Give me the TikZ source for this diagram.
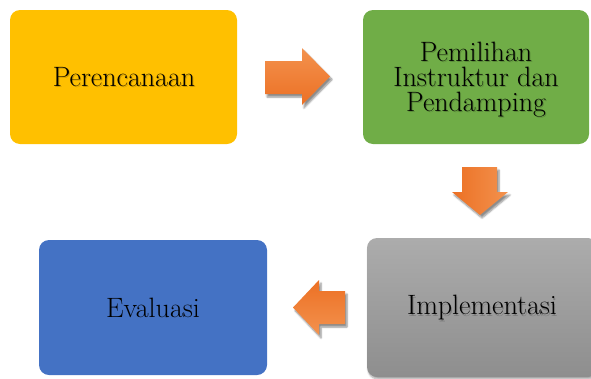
\documentclass[tikz,border=0pt]{standalone}
\usetikzlibrary{shadows.blur}
\definecolor{cYellow}{RGB}{255,192,0}
\definecolor{cGreen}{RGB}{112,173,71}
\definecolor{cBlue}{RGB}{68,114,196}
\definecolor{cGrayTop}{RGB}{172,172,172}
\definecolor{cGrayBot}{RGB}{142,142,142}
\definecolor{cOrL}{RGB}{243,146,78}
\definecolor{cOrD}{RGB}{236,112,36}
\tikzset{
  box/.style={rounded corners=10pt, inner sep=0pt},
  lbl/.style={font=\fontsize{28}{25}\selectfont, align=center, text=black},
  lblsh/.style={font=\fontsize{28}{25}\selectfont, align=center, text=black, opacity=0.2},
  blkarrow/.style={draw=none, blur shadow={shadow xshift=2pt, shadow yshift=-3pt, shadow blur steps=6, shadow opacity=45}},
}
\begin{document}
\begin{tikzpicture}[x=1pt,y=-1pt]
\useasboundingbox (0,0) rectangle (591,378);
% boxes
\fill[box, cYellow] (10,10) rectangle (237,144);
\fill[box, cGreen] (363,10) rectangle (589,144);
\fill[box, cBlue] (39,240) rectangle (267,375);
\shade[box, top color=cGrayTop, bottom color=cGrayBot, blur shadow={shadow xshift=1pt, shadow yshift=-2pt, shadow blur steps=6, shadow opacity=35}] (367,238) rectangle (598,377);
% labels (with soft text shadows as in the reference)
\node[lblsh] (plansh) at (125,78.5) {Perencanaan};
\node[lbl] (plan) at (124,77) {Perencanaan};
\node[lblsh] (picksh) at (477,81) {Pemilihan\\Instruktur dan\\Pendamping};
\node[lbl] (pick) at (476,79.5) {Pemilihan\\Instruktur dan\\Pendamping};
\node[lblsh] (implsh) at (483,309.5) {Implementasi};
\node[lbl] (impl) at (482,308) {Implementasi};
\node[lbl] (eval) at (153,308) {Evaluasi};
% block arrows
\shade[blkarrow, top color=cOrL, bottom color=cOrD]
  (265,61) -- (302,61) -- (302,48) -- (330,76.5) -- (302,105) -- (302,94) -- (265,94) -- cycle;
\shade[blkarrow, left color=cOrD, right color=cOrL]
  (462,167) -- (497,167) -- (497,192) -- (508,192) -- (480,215) -- (452,192) -- (462,192) -- cycle;
\shade[blkarrow, top color=cOrD, bottom color=cOrL]
  (345,291) -- (319,291) -- (319,280) -- (293,307.5) -- (319,335) -- (319,324) -- (345,324) -- cycle;
\end{tikzpicture}
\end{document}
